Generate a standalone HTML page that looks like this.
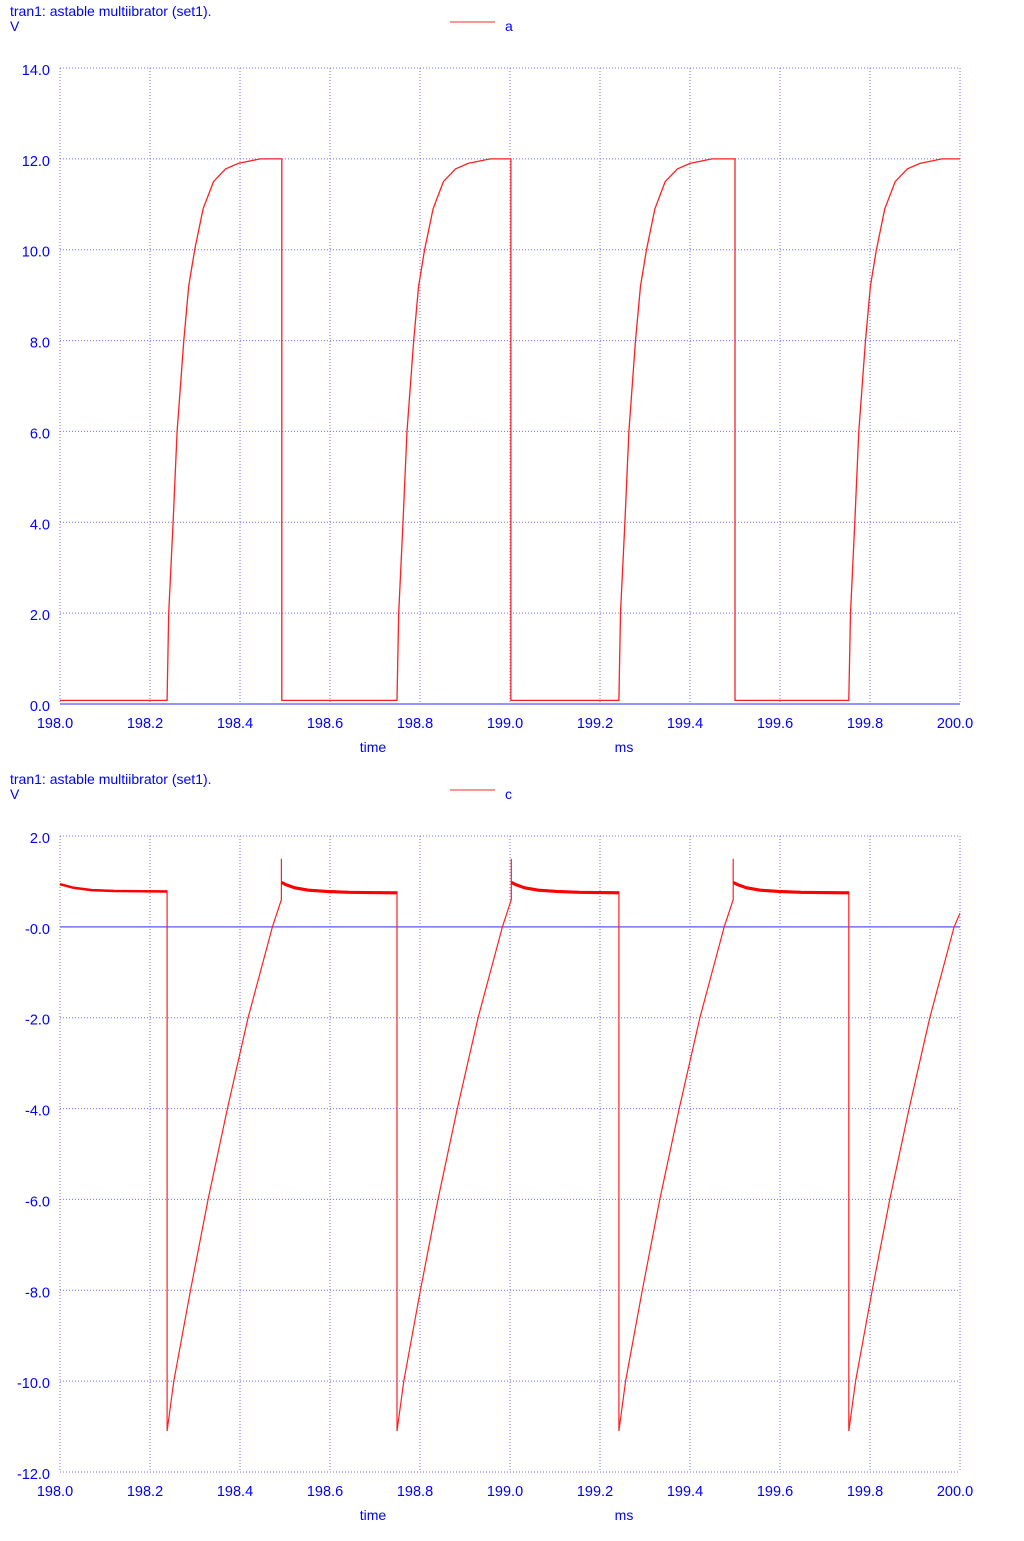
<!DOCTYPE html>
<html><head><meta charset="utf-8">
<style>
html,body{margin:0;padding:0;background:#fff;}
svg text{font-family:"Liberation Sans",sans-serif;fill:#0000ff;}
</style></head>
<body>
<svg id="svg" width="1024" height="1536" xmlns="http://www.w3.org/2000/svg"></svg>
<script>
// ---- data ----
const xTicks = [198.0,198.2,198.4,198.6,198.8,199.0,199.2,199.4,199.6,199.8,200.0];
const yTicksA = [0,2,4,6,8,10,12,14];
const yTicksC = [-12,-10,-8,-6,-4,-2,0,2];
// switching times (ms) for trace a
const riseTimesA = [198.238,198.749,199.242,199.753];
const fallTimesA = [198.493,199.002,199.5];
// rise shape of a: offset (ms) and voltage
const riseDtA = [0,0.0036,0.0133,0.0222,0.037,0.048,0.0613,0.08,0.103,0.13,0.158,0.207];
const riseVA  = [0.1,2.0,4.0,6.0,8.0,9.2,10.0,10.9,11.5,11.78,11.9,12.0];
const lowA = 0.08;
// trace c: drop times, ramp shape, plateau
const dropTimesC = [198.238,198.749,199.242,199.753];
const rampDtC = [0,0.015,0.052,0.091,0.134,0.18,0.234,0.254];
const rampVC  = [-11.1,-10.0,-8.0,-6.0,-4.0,-2.0,0.0,0.6];
const peakC = 1.5;
const plateauDtC = [0,0.01,0.03,0.06,0.1,0.15,0.24];
const plateauVC  = [1.0,0.95,0.88,0.83,0.8,0.78,0.77];
const startVC = [0.95,0.87,0.82,0.8,0.79];
const startTC = [198.0,198.03,198.07,198.12,198.238];
const endVC = 0.3;

// ---- layout ----
const NS="http://www.w3.org/2000/svg";
const svg=document.getElementById('svg');
const L=60,R=960;
function el(tag,attrs,parent){const e=document.createElementNS(NS,tag);for(const k in attrs)e.setAttribute(k,attrs[k]);(parent||svg).appendChild(e);return e;}
function xs(t){return L+(t-198)/2*(R-L);}

function panel(top,bottom,yMin,yMax,yTicks,baseV,title,legend,name){
  const g=el('g',{});
  
  
  const ys=v=>bottom-(v-yMin)/(yMax-yMin)*(bottom-top);
  const t=el('text',{x:10,y:top-52,'font-size':14},g);t.textContent=title;
  
  const u=el('text',{x:10,y:top-37,'font-size':14},g);u.textContent='V';
  
  const ll=el('line',{x1:450,x2:495,y1:top-46,y2:top-46,stroke:'#ff7070','stroke-width':1.5},g);
  
  const lt=el('text',{x:505,y:top-37,'font-size':14},g);lt.textContent=legend;
  
  xTicks.forEach(v=>{
    const x=xs(v);
    const gl=el('line',{x1:x,x2:x,y1:top,y2:bottom,stroke:'#7070ff','stroke-width':1,'stroke-dasharray':'1,2'},g);
    
    const tx=el('text',{x:x-5,y:bottom+24,'font-size':14.5,'text-anchor':'middle'},g);tx.textContent=v.toFixed(1);
    
  });
  yTicks.forEach(v=>{
    const y=ys(v);
    const gl=el('line',{x1:L,x2:R,y1:y,y2:y,stroke:'#7070ff','stroke-width':1,'stroke-dasharray':'1,2'},g);
    
    const tx=el('text',{x:50,y:y+7,'font-size':14.5,'text-anchor':'end'},g);tx.textContent=(v===0&&yMin<0?'-0.0':v.toFixed(1));
    
  });
  const bl=el('line',{x1:L,x2:R,y1:ys(baseV),y2:ys(baseV),stroke:'#7070ff','stroke-width':1.5},g);
  
  const xt=el('text',{x:373,y:bottom+48,'font-size':14,'text-anchor':'middle'},g);xt.textContent='time';
  
  const xu=el('text',{x:624,y:bottom+48,'font-size':14,'text-anchor':'middle'},g);xu.textContent='ms';
  
  return {g,ys};
}

// panel a
const pa=panel(68,704,0,14,yTicksA,0,'tran1: astable multiibrator (set1).','a','voltage-a');
let ptsA=[[198.0,lowA]];
riseTimesA.forEach((tr,i)=>{
  ptsA.push([tr,lowA]);
  const tf=i<fallTimesA.length?fallTimesA[i]:200.0;
  for(let k=0;k<riseDtA.length;k++){if(tr+riseDtA[k]<tf)ptsA.push([tr+riseDtA[k],riseVA[k]]);}
  ptsA.push([tf,12.0]);
  if(i<fallTimesA.length){ptsA.push([tf,lowA]);}
});
const pathA=el('path',{d:ptsA.map((p,i)=>(i?'L':'M')+xs(p[0]).toFixed(1)+','+pa.ys(p[1]).toFixed(1)).join(''),fill:'none',stroke:'#ff2020','stroke-width':1.3},pa.g);



// panel c
const pc=panel(836,1472,-12,2,yTicksC,0,'tran1: astable multiibrator (set1).','c','voltage-c');
let ptsC=[];
startTC.forEach((t,i)=>ptsC.push([t,startVC[i]]));
dropTimesC.forEach((td,i)=>{
  ptsC.push([td,rampVC[0]]);
  const end=td+rampDtC[rampDtC.length-1];
  for(let k=1;k<rampVC.length;k++){const t=td+rampDtC[k];if(t<=200.0)ptsC.push([t,rampVC[k]]);}
  if(i<dropTimesC.length-1){
    ptsC.push([end,peakC]);ptsC.push([end,plateauVC[0]]);
    for(let k=1;k<plateauDtC.length;k++){const t=end+plateauDtC[k];if(t<dropTimesC[i+1])ptsC.push([t,plateauVC[k]]);}
    ptsC.push([dropTimesC[i+1],plateauVC[plateauVC.length-1]]);
  } else {
    ptsC.push([200.0,endVC]);
  }
});
const pathC=el('path',{d:ptsC.map((p,i)=>(i?'L':'M')+xs(p[0]).toFixed(1)+','+pc.ys(p[1]).toFixed(1)).join(''),fill:'none',stroke:'#ff2020','stroke-width':1.2},pc.g);


// thicker noisy plateau overlays
const startOverlay=el('path',{d:startTC.map((t,j)=>(j?'L':'M')+xs(t).toFixed(1)+','+(pc.ys(startVC[j])+0.5).toFixed(1)).join(''),fill:'none',stroke:'#ff0000','stroke-width':2.5},pc.g);


dropTimesC.slice(0,-1).forEach((td,i)=>{
  const s=td+rampDtC[rampDtC.length-1];
  const pts=[];
  for(let k=0;k<plateauDtC.length;k++){const t=s+plateauDtC[k];if(t<dropTimesC[i+1])pts.push([t,plateauVC[k]]);}
  pts.push([dropTimesC[i+1],plateauVC[plateauVC.length-1]]);
  const p=el('path',{d:pts.map((q,j)=>(j?'L':'M')+xs(q[0]).toFixed(1)+','+(pc.ys(q[1])+1).toFixed(1)).join(''),fill:'none',stroke:'#ff0000','stroke-width':3},pc.g);
  
  
});
</script>
</body></html>
